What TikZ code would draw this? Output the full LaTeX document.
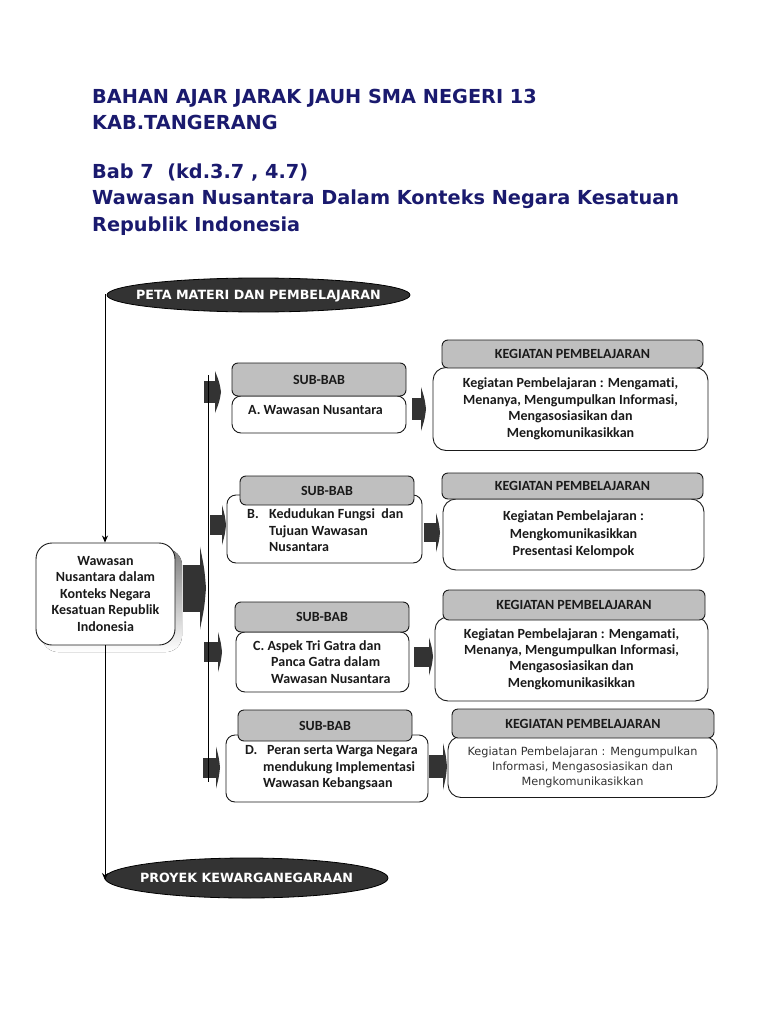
\documentclass[tikz,border=0pt]{standalone}
\usepackage{fontspec}
\setmainfont{Carlito}[Ligatures={NoCommon}]
\newfontfamily\dvs{DejaVu Sans}
\usetikzlibrary{arrows.meta,shapes.geometric}
\definecolor{navy}{HTML}{1A1A6E}
\definecolor{dark}{HTML}{333333}
\definecolor{hdr}{HTML}{BFBFBF}
\definecolor{ink}{HTML}{1A1A1A}
\definecolor{shade}{HTML}{C4C4C4}
\tikzset{
  title/.style={anchor=base west, inner sep=0pt, text=navy, font=\dvs\bfseries\fontsize{19.3}{23}\selectfont},
  body/.style={draw=ink, line width=0.9pt, fill=white, rounded corners=9pt, inner sep=0pt, align=center, text=ink, font=\bfseries\fontsize{14}{16.5}\selectfont},
  kbody/.style={body, rounded corners=13pt},
  head/.style={body, fill=hdr, rounded corners=6pt},
  txt/.style={inner sep=0pt, text=ink, align=left, font=\bfseries\fontsize{14}{16.5}\selectfont},
  ovaltxt/.style={inner sep=0pt, text=white, font=\dvs\bfseries\fontsize{12.7}{15}\selectfont},
  ovalshape/.style={draw=black, line width=0.8pt, fill=dark},
  conn/.style={line width=0.8pt, draw=black},
  arr/.style={conn, -{Stealth[length=7pt,width=6pt]}},
}
% block arrow: x1 x2 tip yc rect-half head-half
\newcommand\blkarr[6]{%
  \fill[dark] (#1,{#4-#5}) rectangle (#2,{#4+#5});
  \fill[dark] (#2,{#4-#6}) .. controls ({#2+0.75*(#3-#2)},{#4-0.45*#6}) .. (#3,#4)
     .. controls ({#2+0.75*(#3-#2)},{#4+0.45*#6}) .. (#2,{#4+#6}) -- cycle;}
\begin{document}
\begin{tikzpicture}[x=1pt,y=-1pt]
\useasboundingbox (0,0) rectangle (768,1024);
\fill[white] (0,0) rectangle (768,1024);

% titles
\node[title] (t1) at (92,104) {BAHAN AJAR JARAK JAUH SMA NEGERI 13};
\node[title] (t2) at (92,130) {KAB.TANGERANG};
\node[title] (t3) at (92,179) {Bab 7\ \ (kd.3.7 , 4.7)};
\node[title] (t4) at (92,205) {Wawasan Nusantara Dalam Konteks Negara Kesatuan};
\node[title] (t5) at (92,232) {Republik Indonesia};

% ovals
\path[ovalshape] (258.5,295) ellipse [x radius=151.5, y radius=17];
\node[ovaltxt] (peta) at (258.5,296) {PETA MATERI DAN PEMBELAJARAN};
\path[ovalshape] (246.5,878) ellipse [x radius=141.5, y radius=20];
\node[ovaltxt] (proyek) at (246.5,878) {PROYEK KEWARGANEGARAAN};

% main box with shadow
\fill[shade, rounded corners=16pt] (42,549) rectangle (182,652);
\node[body, rounded corners=16pt, minimum width=139pt, minimum height=102pt] (main) at (105.5,594)
  {Wawasan\\Nusantara dalam\\Konteks Negara\\Kesatuan Republik\\Indonesia};

% left connector
\coordinate (Ltop) at (105,294);
\draw[arr] (Ltop) -- (Ltop |- main.north);
\coordinate (Lbot) at (105,645);
\coordinate (Lend) at (105,880);
\draw[arr] (Lbot) -- (Lend);

% SUB-BAB A
\node[body, minimum width=174pt, minimum height=37pt] (Ab) at (319,414.5) {};
\node[head, minimum width=174pt, minimum height=33pt] (Ah) at (319,379.5) {SUB-BAB};
\node[txt] (At) at (315.5,410) {A. Wawasan Nusantara};

% SUB-BAB B
\node[body, minimum width=195pt, minimum height=68pt] (Bb) at (324.5,529) {};
\node[head, minimum width=174pt, minimum height=29pt] (Bh) at (327,490.5) {SUB-BAB};
\node[txt, anchor=west] (Bt) at (247,530.5) {\makebox[22pt][l]{B.}Kedudukan Fungsi\ \ dan\\\hspace*{22pt}Tujuan Wawasan\\\hspace*{22pt}Nusantara};

% SUB-BAB C
\node[body, minimum width=173pt, minimum height=60pt] (Cb) at (322.5,662) {};
\node[head, minimum width=174pt, minimum height=30pt] (Ch) at (322,617) {SUB-BAB};
\node[txt, anchor=west] (Ct) at (253,662) {C. Aspek Tri Gatra dan\\\hspace*{18pt}Panca Gatra dalam\\\hspace*{18pt}Wawasan Nusantara};

% SUB-BAB D
\node[body, minimum width=202pt, minimum height=67pt] (Db) at (327,768.5) {};
\node[head, minimum width=174pt, minimum height=31pt] (Dh) at (325,725.5) {SUB-BAB};
\node[txt, anchor=west] (Dt) at (245,768) {\makebox[22pt][l]{D.}Peran serta Warga Negara\\\hspace*{18pt}mendukung Implementasi\\\hspace*{18pt}Wawasan Kebangsaan};

% KEGIATAN 1
\node[kbody, minimum width=275pt, minimum height=83pt] (K1b) at (570.5,409) {Kegiatan Pembelajaran : Mengamati,\\Menanya, Mengumpulkan Informasi,\\Mengasosiasikan dan\\Mengkomunikasikkan};
\node[head, minimum width=261pt, minimum height=28pt] (K1h) at (572.5,354) {KEGIATAN PEMBELAJARAN};

% KEGIATAN 2
\node[kbody, minimum width=261pt, minimum height=71pt, font=\bfseries\fontsize{14}{17.5}\selectfont] (K2b) at (573.5,534.5) {Kegiatan Pembelajaran :\\Mengkomunikasikkan\\Presentasi Kelompok};
\node[head, minimum width=261pt, minimum height=26pt] (K2h) at (572.5,486) {KEGIATAN PEMBELAJARAN};

% KEGIATAN 3
\node[kbody, minimum width=273pt, minimum height=84pt, font=\bfseries\fontsize{14}{16.2}\selectfont] (K3b) at (571.5,659) {Kegiatan Pembelajaran : Mengamati,\\Menanya, Mengumpulkan Informasi,\\Mengasosiasikan dan\\Mengkomunikasikkan};
\node[head, minimum width=262pt, minimum height=30pt] (K3h) at (574,605) {KEGIATAN PEMBELAJARAN};

% KEGIATAN 4
\node[kbody, minimum width=269pt, minimum height=61pt, text=dark, font=\dvs\fontsize{11.3}{15}\selectfont] (K4b) at (582.5,767) {Kegiatan Pembelajaran : Mengumpulkan\\Informasi, Mengasosiasikan dan\\Mengkomunikasikkan};
\node[head, minimum width=262pt, minimum height=29pt] (K4h) at (583,723.5) {KEGIATAN PEMBELAJARAN};

% block arrows
\blkarr{183}{200}{206}{588}{23.5}{41.5}
\blkarr{204}{215}{221}{392}{11}{21}
\blkarr{210}{222}{226}{525}{10}{20}
\blkarr{204}{218}{222}{652}{10}{20}
\blkarr{203}{216}{220}{767.5}{10}{21}
\blkarr{412}{421}{426}{409}{11}{22}
\blkarr{424}{436}{440}{532.5}{9.5}{19.5}
\blkarr{414}{429}{433}{656.5}{10}{19}
\blkarr{429}{443}{447}{766.5}{11.5}{23.5}

% bus line
\coordinate (busT) at (208.5,375);
\coordinate (busB) at (208.5,782);
\draw[conn] (busT) -- (busB);
\end{tikzpicture}
\end{document}
